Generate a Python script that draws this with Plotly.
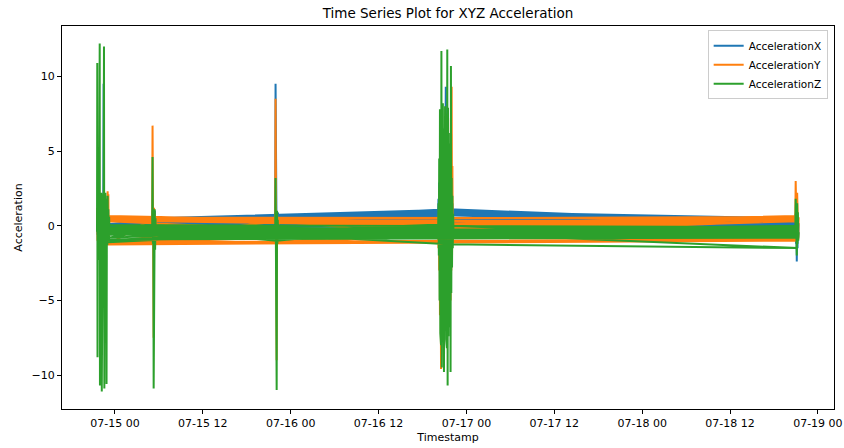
import plotly.graph_objects as go

YEAR = "2023-"

# ---------------- burst at cluster A (07-14 evening) ----------------
burst_a_time = ["07-14 21:33", "07-14 21:35", "07-14 21:37", "07-14 21:39", "07-14 21:41",
                "07-14 21:43", "07-14 21:45", "07-14 21:47", "07-14 21:49", "07-14 21:51",
                "07-14 21:53", "07-14 21:55", "07-14 21:57", "07-14 21:59", "07-14 22:01",
                "07-14 22:03", "07-14 22:06", "07-14 22:09", "07-14 22:12", "07-14 22:15",
                "07-14 22:18", "07-14 22:21", "07-14 22:24", "07-14 22:27", "07-14 22:30",
                "07-14 22:33", "07-14 22:36", "07-14 22:39", "07-14 22:42", "07-14 22:45",
                "07-14 22:48", "07-14 22:51", "07-14 22:54", "07-14 22:57", "07-14 23:00",
                "07-14 23:03", "07-14 23:06", "07-14 23:09", "07-14 23:12", "07-14 23:15"]
burst_a_x = [0.1, 0.8, -0.6, 0.5, -0.4, 0.9, -0.7, 0.3, -0.5, 0.6,
             0.2, 1.1, -0.9, 0.4, -0.3, 0.7, -2.0, 0.5, -0.8, 0.6,
             -0.2, 0.8, -0.5, 9.5, 1.0, -1.1, 0.4, -0.6, 0.7, -0.3,
             0.5, -0.4, 0.3, -0.2, 0.4, -0.1, 0.2, 0.0, 0.1, 0.1]
burst_a_y = [0.4, 1.2, -1.0, 0.8, -0.9, 1.1, -1.2, 0.6, -0.8, 1.0,
             -0.5, 1.4, -1.3, 0.9, -0.7, 1.2, -1.1, 0.7, -1.0, 0.9,
             -0.6, 1.3, -1.2, 0.8, 1.5, -1.3, 1.0, -0.9, 1.1, -0.8,
             1.2, -1.1, 1.6, -1.3, 2.3, -1.2, 2.1, -1.0, 0.5, 0.4]
burst_a_z = [-0.4, 10.9, -8.8, 1.8, -2.1, 2.4, -1.5, 1.2, -2.3, 1.9,
             -0.8, 12.2, -10.7, 2.0, -1.9, 1.5, -2.4, 2.2, -11.1, 1.7,
             -1.2, 2.1, -2.0, 1.3, 12.0, -10.9, 1.9, -1.6, 2.2, -0.9,
             1.4, -10.6, 1.8, -1.3, 2.0, -1.0, 1.1, -0.9, 0.6, -0.3]

# ---------------- burst at cluster B (07-15 morning) ----------------
burst_b_time = ["07-15 05:05", "07-15 05:08", "07-15 05:11", "07-15 05:14", "07-15 05:17", "07-15 05:20",
                "07-15 05:23", "07-15 05:26", "07-15 05:29", "07-15 05:32", "07-15 05:35", "07-15 05:38"]
burst_b_x = [0.4, 1.0, -0.2, 0.8, -0.5, 0.6, 0.2, 1.0, 0.3, 0.6, 0.4, 0.5]
burst_b_y = [0.4, 6.7, -1.0, 5.2, -7.5, 1.2, -0.9, 0.8, -0.6, 0.5, -0.9, 0.3]
burst_b_z = [-0.3, 4.6, -1.2, 1.0, -10.9, 0.8, -2.5, 1.1, -1.6, 0.5, -0.8, -0.2]

# ---------------- burst at cluster C (07-15 night) ----------------
burst_c_time = ["07-15 21:53", "07-15 21:56", "07-15 21:59", "07-15 22:02", "07-15 22:05",
                "07-15 22:08", "07-15 22:11", "07-15 22:14", "07-15 22:17", "07-15 22:20"]
burst_c_x = [0.5, 9.5, -0.8, 4.0, -1.5, 0.8, 0.3, 0.9, 0.5, 0.6]
burst_c_y = [0.4, 8.5, -1.2, 6.0, -9.0, 0.9, -1.0, 0.5, -0.9, 0.3]
burst_c_z = [-0.3, 3.2, -1.5, 0.6, -11.0, 1.0, -1.2, 0.4, -0.8, -0.1]

# ---------------- burst at cluster D (07-16 evening) ----------------
burst_d_time = ["07-16 20:08", "07-16 20:11", "07-16 20:14", "07-16 20:17", "07-16 20:20",
                "07-16 20:23", "07-16 20:26", "07-16 20:29", "07-16 20:32", "07-16 20:35",
                "07-16 20:38", "07-16 20:41", "07-16 20:44", "07-16 20:47", "07-16 20:50",
                "07-16 20:53", "07-16 20:56", "07-16 20:59", "07-16 21:02", "07-16 21:05",
                "07-16 21:08", "07-16 21:11", "07-16 21:14", "07-16 21:17", "07-16 21:20",
                "07-16 21:23", "07-16 21:26", "07-16 21:29", "07-16 21:32", "07-16 21:35",
                "07-16 21:38", "07-16 21:41", "07-16 21:44", "07-16 21:47", "07-16 21:50",
                "07-16 21:53", "07-16 21:56", "07-16 21:59", "07-16 22:02", "07-16 22:05",
                "07-16 22:08", "07-16 22:11", "07-16 22:14"]
burst_d_x = [0.9, 1.8, -0.5, 2.9, -1.0, 2.0, -2.5, 3.5, -3.0, 5.0,
             -4.0, 4.0, -3.5, 5.5, -4.0, 4.5, -3.0, 5.0, -4.5, 6.0,
             -3.5, 9.3, -4.0, 5.0, -3.0, 6.0, -5.0, 4.5, -3.0, 4.0,
             -2.5, 3.5, -2.0, 3.0, -2.5, 3.8, -1.5, 2.5, -1.0, 1.5,
             0.2, 1.1, 1.0]
burst_d_y = [-0.2, -1.5, 0.8, -3.0, 2.5, -6.0, 4.0, -7.5, -9.6, 5.0,
             -6.0, 4.5, -5.0, 6.0, -5.5, 4.0, -6.0, 5.0, -4.5, 6.0,
             -5.0, 4.5, -5.5, 5.0, -6.0, 7.0, -6.5, 5.5, -5.0, 4.5,
             -4.0, 5.0, -4.5, 6.0, -5.0, 7.2, -3.0, 9.3, -2.0, 4.0,
             -1.0, 0.6, 0.1]
burst_d_z = [-0.3, 1.5, -2.0, 4.5, -5.0, 7.8, -7.2, 9.5, -8.0, 11.7,
             -9.5, 7.0, -6.5, 8.2, -7.8, 6.5, -9.8, 7.4, -7.0, 8.0,
             -6.0, 7.5, -7.6, 6.8, -8.2, 11.8, -10.7, 7.9, -7.4, 6.2,
             -6.8, 5.5, -5.2, 4.8, -9.8, 10.7, -4.5, 3.2, -2.8, 2.0,
             -1.5, 0.8, -0.4]

# ---------------- burst at cluster E (07-18 evening) ----------------
burst_e_time = ["07-18 20:55", "07-18 20:58", "07-18 21:01", "07-18 21:04", "07-18 21:07",
                "07-18 21:10", "07-18 21:13", "07-18 21:16", "07-18 21:19", "07-18 21:22"]
burst_e_x = [0.2, 0.8, -1.2, 0.6, -2.4, 0.5, -1.5, 0.3, -0.8, 0.1]
burst_e_y = [0.5, 3.0, -0.8, 2.6, -1.0, 2.2, -0.6, 1.5, -0.9, 0.5]
burst_e_z = [-0.4, 1.8, -1.6, 1.2, -2.0, 1.5, -1.2, 0.9, -1.0, -0.5]

# ---------------- resting samples recorded out of time order ----------------
link_time = ["07-18 21:05", "07-16 21:40", "07-14 23:10", "07-15 05:20", "07-16 21:00",
             "07-18 21:15", "07-14 22:50", "07-15 22:05", "07-16 21:20", "07-14 23:05",
             "07-16 20:50", "07-18 21:10", "07-15 05:30", "07-16 21:10", "07-18 21:00",
             "07-16 21:45", "07-14 22:55", "07-18 21:20", "07-15 22:10", "07-16 21:50",
             "07-14 23:00", "07-16 21:15", "07-18 21:05", "07-15 05:15", "07-16 21:25",
             "07-18 21:15", "07-16 21:30", "07-14 23:10", "07-18 21:10", "07-15 22:00",
             "07-14 22:45", "07-16 20:40", "07-18 21:00", "07-14 23:05", "07-15 05:25",
             "07-16 21:35", "07-18 21:20", "07-16 21:05", "07-15 22:15", "07-14 22:55",
             "07-16 21:15", "07-18 21:15", "07-15 05:10", "07-18 21:10", "07-16 20:45",
             "07-14 23:00"]
link_x = [0.2, 1.1, 0.0, 0.4, 1.0, 0.4, -0.2, 0.6, 0.9, 0.1,
          1.05, -0.3, 0.3, 0.8, 0.5, 0.95, -0.1, 0.0, 0.7, 0.6,
          0.0, 0.7, 0.3, 0.45, 0.85, -0.2, 0.5, 0.05, 0.1, 0.5,
          -0.3, 0.3, 0.2, 0.1, 0.2, 0.95, 0.4, 0.75, 0.55, 0.0,
          0.7, 0.5, 0.35, 0.0, 1.0, -0.1]
link_y = [0.6, 0.1, 0.5, 0.6, -0.1, 0.5, -1.2, 0.3, 0.2, 0.65,
          0.0, -0.9, -1.1, 0.15, 0.65, 0.05, 0.4, -0.3, 0.4, -0.9,
          -1.1, -0.3, -0.8, 0.5, 0.15, -0.8, -0.8, 0.3, 0.35, -1.1,
          0.6, -0.2, -1.0, -1.25, 0.55, 0.05, 0.6, -0.2, 0.35, 0.55,
          -0.3, 0.3, -1.0, 0.62, 0.0, 0.45]
link_z = [-0.2, -0.8, -0.5, 0.0, -0.3, -0.7, -0.1, -1.0, 0.1, -0.8,
          -0.6, 0.0, -0.6, -0.5, -0.8, -0.4, -0.3, -0.4, -0.2, -0.1,
          -1.1, 0.0, -0.8, -0.9, -0.5, -1.5, -1.24, 0.05, -0.1, -0.7,
          -0.4, -0.8, -0.3, -0.6, -0.2, -0.4, -0.6, -0.75, -0.5, -0.95,
          0.0, -0.35, -0.45, -0.75, -0.7, -0.2]

assert len(link_time) == len(link_x) == len(link_y) == len(link_z)

# record order: bursts interleaved with out-of-order resting samples
segments = [
    (burst_a_time, burst_a_x, burst_a_y, burst_a_z),
    (link_time[0:10], link_x[0:10], link_y[0:10], link_z[0:10]),
    (burst_b_time, burst_b_x, burst_b_y, burst_b_z),
    (link_time[10:20], link_x[10:20], link_y[10:20], link_z[10:20]),
    (burst_c_time, burst_c_x, burst_c_y, burst_c_z),
    (link_time[20:30], link_x[20:30], link_y[20:30], link_z[20:30]),
    (burst_d_time, burst_d_x, burst_d_y, burst_d_z),
    (link_time[30:40], link_x[30:40], link_y[30:40], link_z[30:40]),
    (burst_e_time, burst_e_x, burst_e_y, burst_e_z),
    (link_time[40:], link_x[40:], link_y[40:], link_z[40:]),
]
timestamps, acc_x, acc_y, acc_z = [], [], [], []
for t, x, y, z in segments:
    assert len(t) == len(x) == len(y) == len(z)
    timestamps += [YEAR + s for s in t]
    acc_x += x
    acc_y += y
    acc_z += z

FONT = "DejaVu Sans"
fig = go.Figure()
for name, vals, color in [("AccelerationX", acc_x, "#1f77b4"),
                          ("AccelerationY", acc_y, "#ff7f0e"),
                          ("AccelerationZ", acc_z, "#2ca02c")]:
    fig.add_trace(go.Scatter(x=timestamps, y=vals, mode="lines", name=name,
                             line=dict(color=color, width=2)))

axis_style = dict(showline=True, mirror=True, linecolor="black", linewidth=1,
                  ticks="outside", ticklen=4, tickwidth=1, tickcolor="black",
                  showgrid=False, zeroline=False,
                  tickfont=dict(family=FONT, size=11, color="black"))

fig.update_layout(
    width=844, height=448,
    margin=dict(l=62, r=10, t=26, b=39),
    paper_bgcolor="white", plot_bgcolor="white",
    font=dict(family=FONT, size=11, color="black"),
    title=dict(text="Time Series Plot for XYZ Acceleration", x=0.5, xref="paper",
               y=1 - 13 / 448, yref="container", yanchor="middle", xanchor="center",
               font=dict(family=FONT, size=13.5, color="black")),
    xaxis=dict(type="date", range=["2023-07-14 16:46", "2023-07-19 02:12"],
               tick0="2023-07-15 00:00", dtick=12 * 3600 * 1000, tickformat="%m-%d %H",
               title=dict(text="Timestamp", standoff=4, font=dict(family=FONT, size=11)),
               automargin=False, **axis_style),
    yaxis=dict(range=[-12.27, 13.37], tickvals=[-10, -5, 0, 5, 10],
               title=dict(text="Acceleration", standoff=6, font=dict(family=FONT, size=11)),
               automargin=False, **axis_style),
    legend=dict(x=0.9918, xanchor="right", y=0.989, yanchor="top",
                bordercolor="#cccccc", borderwidth=1, bgcolor="rgba(255,255,255,0.8)",
                font=dict(family=FONT, size=10.5, color="black"), itemwidth=30,
                tracegroupgap=0),
    showlegend=True,
)

fig.write_html("out.html")
